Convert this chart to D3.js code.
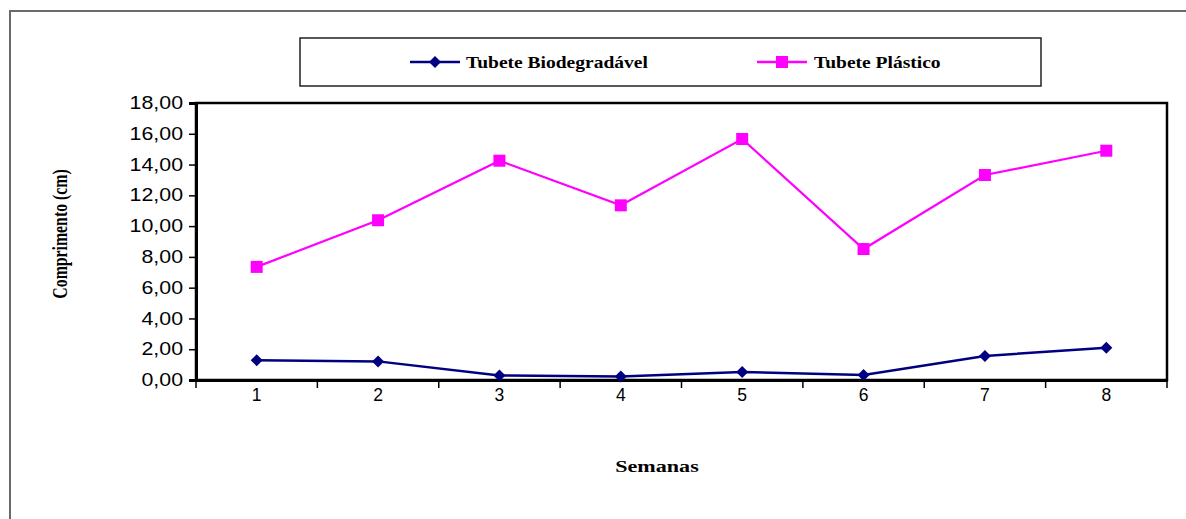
<!DOCTYPE html>
<html>
<head>
<meta charset="utf-8">
<script src="https://cdn.jsdelivr.net/npm/d3@7"></script>
<style>
  html, body { margin: 0; padding: 0; background: #fff; }
  svg { display: block; }
</style>
</head>
<body>
<svg id="chart" width="1186" height="519"></svg>
<script>
// Weekly length measurements (cm) for two seedling tube types
const weeks = ["1", "2", "3", "4", "5", "6", "7", "8"];
const biodegradavel = [1.28, 1.21, 0.30, 0.22, 0.52, 0.32, 1.56, 2.10];
const plastico = [7.35, 10.38, 14.25, 11.35, 15.66, 8.51, 13.32, 14.90];
const yTicks = [0, 2, 4, 6, 8, 10, 12, 14, 16, 18];
const seriesNames = ["Tubete Biodegradável", "Tubete Plástico"];

const svg = d3.select("#chart");
const plot = { left: 196, right: 1167, top: 103, bottom: 380 };
const stretch = 1.3; // glyphs are drawn wider than their natural proportions

const x = d3.scaleBand().domain(weeks).range([plot.left, plot.right]);
const y = d3.scaleLinear().domain([0, 18]).range([plot.bottom, plot.top]);

// outer frame (top and left edges)
svg.append("path")
  .attr("d", "M10,519 V11 H1186")
  .attr("fill", "none").attr("stroke", "#6a6a6a").attr("stroke-width", 2);

// plot area border
svg.append("rect")
  .attr("x", plot.left).attr("y", plot.top)
  .attr("width", plot.right - plot.left).attr("height", plot.bottom - plot.top)
  .attr("fill", "none").attr("stroke", "#000").attr("stroke-width", 2.5);

const numFmt = v => d3.format(".2f")(v).replace(".", ",");
const sans = "Liberation Sans, Arial, sans-serif";
const serif = "Liberation Serif, Times New Roman, serif";

// y axis
const ySx = 1.22;
const yAxis = svg.append("g")
  .attr("transform", `translate(${plot.left},0)`)
  .call(d3.axisLeft(y).tickValues(yTicks).tickFormat(numFmt).tickSize(7));
yAxis.select(".domain").attr("stroke-width", 3).attr("stroke", "#000");
yAxis.selectAll(".tick line").attr("stroke-width", 1.5);
yAxis.selectAll("text")
  .attr("font-family", sans).attr("font-size", 17.5).attr("fill", "#000")
  .attr("x", -13 / ySx).attr("transform", `scale(${ySx},1)`);

// x axis: ticks sit on category boundaries, labels at category centres
const xAxis = svg.append("g")
  .attr("transform", `translate(0,${plot.bottom})`)
  .call(d3.axisBottom(x).tickSize(0).tickPadding(9));
xAxis.select(".domain").attr("stroke-width", 3).attr("stroke", "#000");
xAxis.selectAll("text")
  .attr("font-family", sans).attr("font-size", 17.5).attr("fill", "#000");
const boundaries = weeks.map(w => x(w)).concat([plot.right]);
xAxis.selectAll(".bound").data(boundaries).join("line")
  .attr("class", "bound")
  .attr("x1", d => d).attr("x2", d => d)
  .attr("y1", 0).attr("y2", 8)
  .attr("stroke", "#000").attr("stroke-width", 1.5);

const cx = w => x(w) + x.bandwidth() / 2;
const line = d3.line().x((d, i) => cx(weeks[i])).y(d => y(d));

// square-on-point diamond marker
const diamondType = {
  draw(ctx, size) {
    const r = Math.sqrt(size / 2);
    ctx.moveTo(0, -r); ctx.lineTo(r, 0); ctx.lineTo(0, r); ctx.lineTo(-r, 0); ctx.closePath();
  }
};
const diamond = d3.symbol().type(diamondType).size(72);

// plastic tube series
svg.append("path").datum(plastico)
  .attr("d", line).attr("fill", "none")
  .attr("stroke", "#ff00ff").attr("stroke-width", 2.2);
svg.selectAll(".sq").data(plastico).join("rect")
  .attr("class", "sq")
  .attr("x", (d, i) => cx(weeks[i]) - 6).attr("y", d => y(d) - 6)
  .attr("width", 12).attr("height", 12).attr("fill", "#ff00ff");

// biodegradable tube series
svg.append("path").datum(biodegradavel)
  .attr("d", line).attr("fill", "none")
  .attr("stroke", "#000080").attr("stroke-width", 2.5);
svg.selectAll(".dm").data(biodegradavel).join("path")
  .attr("class", "dm")
  .attr("d", diamond)
  .attr("transform", (d, i) => `translate(${cx(weeks[i])},${y(d)})`)
  .attr("fill", "#000080");

// axis titles
svg.append("text")
  .attr("transform", `translate(657,472) scale(${stretch},1)`)
  .attr("text-anchor", "middle")
  .attr("font-family", serif).attr("font-weight", "bold").attr("font-size", 17)
  .text("Semanas");
svg.append("text")
  .attr("transform", "translate(67,234) scale(1.35,1) rotate(-90)")
  .attr("text-anchor", "middle")
  .attr("font-family", serif).attr("font-weight", "bold").attr("font-size", 15.8)
  .text("Comprimento (cm)");

// legend
const lg = svg.append("g");
lg.append("rect")
  .attr("x", 300).attr("y", 38).attr("width", 741).attr("height", 48)
  .attr("fill", "#fff").attr("stroke", "#222").attr("stroke-width", 1.5);
const items = [
  { name: seriesNames[0], x0: 410, color: "#000080", kind: "diamond", tx: 466 },
  { name: seriesNames[1], x0: 757, color: "#ff00ff", kind: "square", tx: 814 }
];
items.forEach(it => {
  const cy = 62;
  lg.append("line")
    .attr("x1", it.x0).attr("x2", it.x0 + 50).attr("y1", cy).attr("y2", cy)
    .attr("stroke", it.color).attr("stroke-width", 2.5);
  if (it.kind === "diamond") {
    lg.append("path").attr("d", diamond)
      .attr("transform", `translate(${it.x0 + 25},${cy})`).attr("fill", it.color);
  } else {
    lg.append("rect").attr("x", it.x0 + 19).attr("y", cy - 6)
      .attr("width", 12).attr("height", 12).attr("fill", it.color);
  }
  lg.append("text")
    .attr("transform", `translate(${it.tx},${cy + 6}) scale(1.22,1)`)
    .attr("font-family", serif).attr("font-weight", "bold").attr("font-size", 16)
    .text(it.name);
});
</script>
</body>
</html>
